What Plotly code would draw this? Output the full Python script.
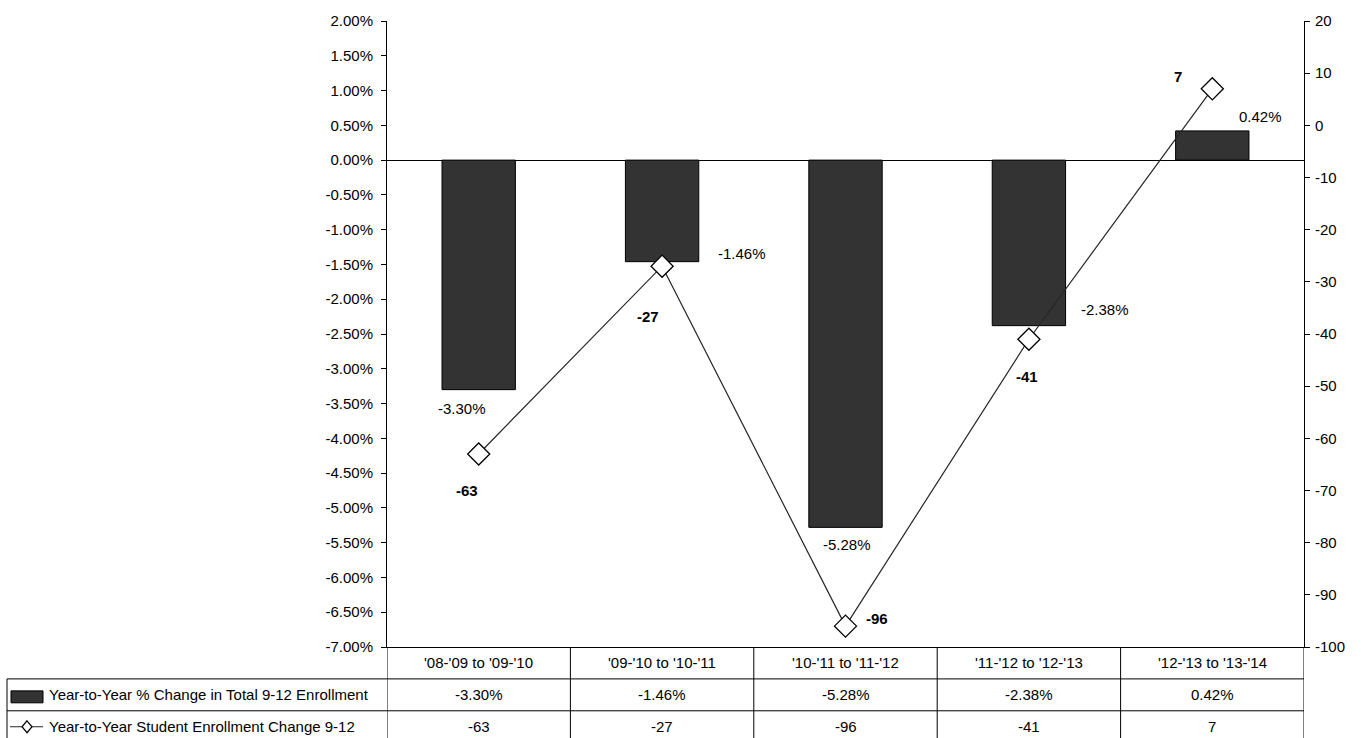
import plotly.graph_objects as go

# ---- data ----
categories = ["'08-'09 to '09-'10", "'09-'10 to '10-'11", "'10-'11 to '11-'12",
              "'11-'12 to '12-'13", "'12-'13 to '13-'14"]
pct_change = [-3.30, -1.46, -5.28, -2.38, 0.42]
enroll_change = [-63, -27, -96, -41, 7]

bar_name = "Year-to-Year % Change in Total 9-12 Enrollment"
line_name = "Year-to-Year Student Enrollment Change 9-12"

left_ticks = [2.0 - 0.5 * i for i in range(19)]
right_ticks = [20 - 10 * i for i in range(13)]

# ---- layout geometry (pixels) ----
W, H = 1361, 738
PL, PR, PT, PB = 387, 1304, 19, 647
pw, ph = PR - PL, PB - PT


def px_x(x):
    return (x - PL) / pw


def px_y(y):
    return (PB - y) / ph


FONT = "Liberation Sans, Arial, sans-serif"
BAR_COLOR = "#333333"

# label offsets (pixels) relative to each mark's value
bar_label_shift = [(-17, -19), (80, 8), (1, -17), (76, 16), (48, 14)]
line_label_shift = [(-12, -37), (-14, -50), (31, 8), (-2, -37), (-34, 12)]

fig = go.Figure()

fig.add_trace(go.Bar(
    x=categories, y=pct_change, name=bar_name, width=0.4,
    marker=dict(color=BAR_COLOR, line=dict(color="black", width=1)),
    yaxis="y", showlegend=False, hoverinfo="skip",
))

fig.add_trace(go.Scatter(
    x=categories, y=enroll_change, name=line_name, mode="lines+markers",
    line=dict(color="#262626", width=1.2),
    marker=dict(symbol="diamond", size=17, color="white",
                line=dict(color="black", width=1.3)),
    yaxis="y2", showlegend=False, cliponaxis=False, hoverinfo="skip",
))

annotations = []

# value labels on bars
for c, v, (dx, dy) in zip(categories, pct_change, bar_label_shift):
    annotations.append(dict(
        x=c, y=v, xref="x", yref="y", text=f"{v:.2f}%", showarrow=False,
        xshift=dx, yshift=dy, font=dict(family=FONT, size=15, color="black"),
    ))

# value labels on line points
for c, v, (dx, dy) in zip(categories, enroll_change, line_label_shift):
    annotations.append(dict(
        x=c, y=v, xref="x", yref="y2", text=f"<b>{v}</b>", showarrow=False,
        xshift=dx, yshift=dy, font=dict(family=FONT, size=15, color="black"),
    ))

# data table rows
row_cat_y = px_y(663)
row1_y = px_y(695)
row2_y = px_y(727)
for c, p, e in zip(categories, pct_change, enroll_change):
    for txt, yy in ((c, row_cat_y), (f"{p:.2f}%", row1_y), (str(e), row2_y)):
        annotations.append(dict(
            x=c, y=yy, xref="x", yref="paper", text=txt, showarrow=False,
            xanchor="center", yanchor="middle",
            font=dict(family=FONT, size=15, color="black"),
        ))

for txt, yy in ((bar_name, row1_y), (line_name, row2_y)):
    annotations.append(dict(
        x=px_x(47), y=yy, xref="paper", yref="paper", text=txt,
        showarrow=False, xanchor="left", yanchor="middle",
        font=dict(family=FONT, size=15, color="black"),
    ))

shapes = []
line_style = dict(color="black", width=1)
table_bottom = px_y(743)

# vertical table rules (column boundaries continue the axes)
for i in range(len(categories) + 1):
    shapes.append(dict(type="line", xref="x", yref="paper",
                       x0=i - 0.5, x1=i - 0.5, y0=0, y1=table_bottom,
                       line=line_style))
# left edge of the legend column
shapes.append(dict(type="line", xref="paper", yref="paper",
                   x0=px_x(7), x1=px_x(7), y0=px_y(679), y1=table_bottom,
                   line=line_style))
# horizontal table rules
for yy in (679, 711, 743):
    shapes.append(dict(type="line", xref="paper", yref="paper",
                       x0=px_x(7), x1=1, y0=px_y(yy), y1=px_y(yy),
                       line=line_style))

# legend keys inside the table
shapes.append(dict(type="rect", xref="paper", yref="paper",
                   x0=px_x(11), x1=px_x(43), y0=px_y(703), y1=px_y(691),
                   fillcolor=BAR_COLOR, line=dict(color="black", width=1)))
shapes.append(dict(type="line", xref="paper", yref="paper",
                   x0=px_x(10), x1=px_x(43), y0=px_y(727), y1=px_y(727),
                   line=dict(color="#262626", width=1.2)))
cx, cy, hw, hh = 27, 727, 5, 6
diamond = "M {} {} L {} {} L {} {} L {} {} Z".format(
    px_x(cx), px_y(cy - hh), px_x(cx + hw), px_y(cy),
    px_x(cx), px_y(cy + hh), px_x(cx - hw), px_y(cy))
shapes.append(dict(type="path", xref="paper", yref="paper", path=diamond,
                   fillcolor="white", line=dict(color="black", width=1.2)))

fig.update_layout(
    width=W, height=H,
    margin=dict(l=PL, r=W - PR, t=PT, b=H - PB, pad=0),
    paper_bgcolor="white", plot_bgcolor="white",
    font=dict(family=FONT, size=15, color="black"),
    showlegend=False,
    bargap=0.6,
    xaxis=dict(
        range=[-0.5, 4.5], showticklabels=False, ticks="",
        showline=True, linecolor="black", linewidth=1,
        showgrid=False, zeroline=False, fixedrange=True,
    ),
    yaxis=dict(
        range=[-7, 2], tickvals=left_ticks,
        ticktext=[f"{v:.2f}%" for v in left_ticks],
        ticks="outside", ticklen=5, tickcolor="black",
        showline=True, linecolor="black", linewidth=1,
        showgrid=False, zeroline=True, zerolinecolor="black",
        zerolinewidth=1, ticklabelstandoff=5,
        tickfont=dict(family=FONT, size=15, color="black"),
    ),
    yaxis2=dict(
        range=[-100, 20], tickvals=right_ticks,
        ticktext=[str(v) for v in right_ticks],
        overlaying="y", side="right", anchor="x",
        ticks="outside", ticklen=5, tickcolor="black",
        showline=True, linecolor="black", linewidth=1,
        showgrid=False, zeroline=False, ticklabelstandoff=2,
        tickfont=dict(family=FONT, size=15, color="black"),
    ),
    yaxis3=dict(
        range=[-7, 2], tickvals=left_ticks, overlaying="y", side="left",
        anchor="x", ticks="inside", ticklen=5, tickcolor="black",
        showticklabels=False, showline=False, showgrid=False,
        zeroline=False,
    ),
    annotations=annotations,
    shapes=shapes,
)

fig.write_html("out.html")
